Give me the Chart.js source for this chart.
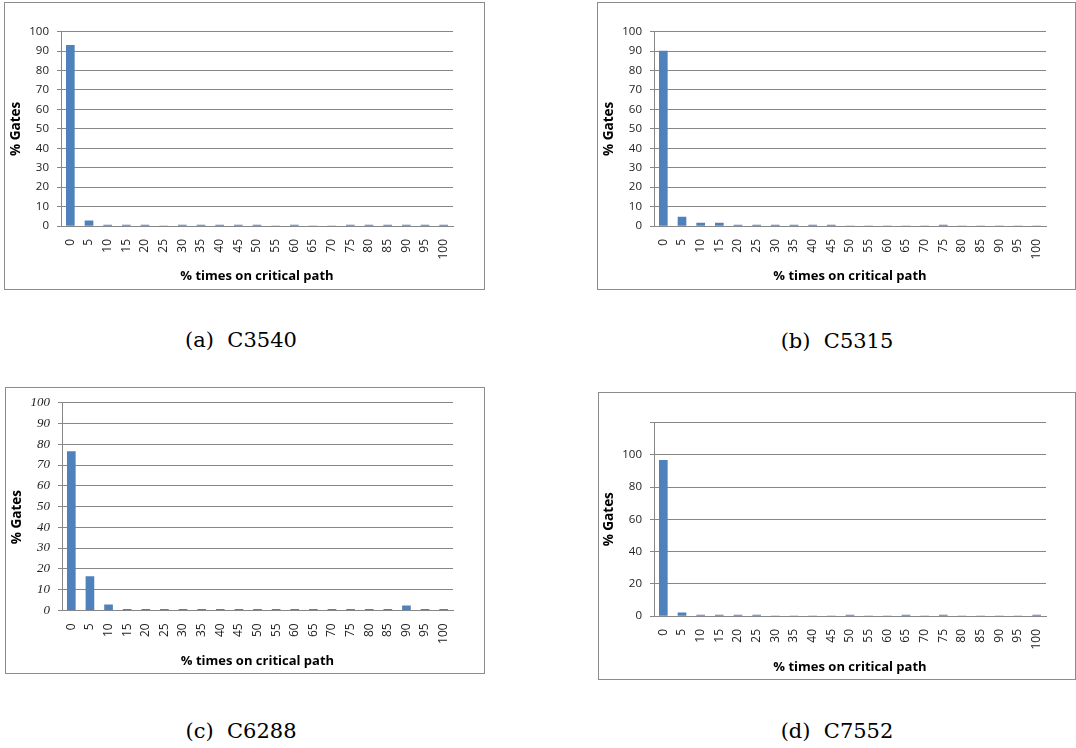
<!DOCTYPE html>
<html>
<head>
<meta charset="utf-8">
<script src="https://cdn.jsdelivr.net/npm/chart.js@4/dist/chart.umd.min.js"></script>
<style>
  html, body { margin: 0; padding: 0; background: #ffffff; }
  body { width: 1076px; height: 748px; position: relative; overflow: hidden; }
  .box { position: absolute; }
  .box canvas { position: absolute; left: 0; top: 0; }
  .cap { position: absolute; font-family: "DejaVu Serif", serif; font-size: 21px; color: #000;
         transform: translate(-50%, -50%); white-space: pre; }
</style>
</head>
<body>
<div class="box" id="boxA" style="left:4px;top:2px;width:481px;height:288px;"><canvas id="cA"></canvas></div>
<div class="box" id="boxB" style="left:597px;top:2px;width:479px;height:288px;"><canvas id="cB"></canvas></div>
<div class="box" id="boxC" style="left:5px;top:387px;width:480px;height:287px;"><canvas id="cC"></canvas></div>
<div class="box" id="boxD" style="left:598px;top:392px;width:478px;height:288px;"><canvas id="cD"></canvas></div>
<div class="cap" style="left:241px;top:340px;">(a)  C3540</div>
<div class="cap" style="left:837px;top:341px;">(b)  C5315</div>
<div class="cap" style="left:241px;top:731px;">(c)  C6288</div>
<div class="cap" style="left:837px;top:731px;">(d)  C7552</div>
<script>
// ---- data ----
const categories = ['0','5','10','15','20','25','30','35','40','45','50','55','60','65','70','75','80','85','90','95','100'];
const valuesC3540 = [93, 2.7, 0.5, 0.5, 0.5, 0, 0.5, 0.5, 0.5, 0.5, 0.5, 0, 0.5, 0, 0, 0.5, 0.5, 0.5, 0.5, 0.5, 0.5];
const valuesC5315 = [90, 4.6, 1.5, 1.5, 0.5, 0.5, 0.5, 0.5, 0.5, 0.5, 0, 0, 0, 0, 0, 0.5, 0, 0, 0, 0, 0];
const valuesC6288 = [76.5, 16.3, 2.6, 0.5, 0.5, 0.5, 0.5, 0.5, 0.5, 0.5, 0.5, 0.5, 0.5, 0.5, 0.5, 0.5, 0.5, 0.5, 2.1, 0.5, 0.5];
const valuesC7552 = [96.5, 1.9, 0.6, 0.6, 0.6, 0.6, 0, 0, 0, 0, 0.6, 0, 0, 0.6, 0, 0.6, 0, 0, 0, 0, 0.6];
const yTicks100 = [0, 10, 20, 30, 40, 50, 60, 70, 80, 90, 100];
const yTicks120 = [0, 20, 40, 60, 80, 100, 120];
const yHiddenLabelsD = [120];
const xTitle = '% times on critical path';
const yTitle = '% Gates';

const GRID = '#878787';
const BAR = '#4F81BD';

const borderPlugin = {
  id: 'boxBorder',
  afterDraw(chart) {
    const {ctx, width, height} = chart;
    ctx.save();
    ctx.strokeStyle = '#8c8c8c';
    ctx.lineWidth = 1;
    ctx.strokeRect(0.5, 0.5, width - 1, height - 1);
    ctx.restore();
  }
};

function makeChart(id, values, geo) {
  const tickValues = geo.ticks;
  return new Chart(document.getElementById(id), {
    type: 'bar',
    data: {
      labels: categories,
      datasets: [{ data: values, backgroundColor: BAR, borderWidth: 0, barThickness: 8 }]
    },
    options: {
      responsive: true,
      maintainAspectRatio: false,
      animation: false,
      events: [],
      layout: { padding: { left: 0, right: geo.padRight, top: geo.padTop, bottom: 0 } },
      plugins: { legend: { display: false }, tooltip: { enabled: false } },
      scales: {
        x: {
          type: 'category',
          offset: true,
          grid: { display: false, drawTicks: false },
          border: { display: true, color: GRID, width: 1 },
          ticks: {
            minRotation: 90, maxRotation: 90, autoSkip: false, padding: 13,
            color: '#222', font: { family: 'Open Sans', size: 12 }
          },
          title: {
            display: true, text: xTitle, color: '#000',
            font: { family: 'Open Sans', size: 13, weight: 'bold', lineHeight: 1.2 },
            padding: { top: 0, bottom: geo.xTitlePad }
          },
          afterFit(scale) { scale.height = geo.xHeight; }
        },
        y: {
          min: 0, max: tickValues[tickValues.length - 1],
          afterBuildTicks(scale) { scale.ticks = tickValues.map(v => ({ value: v })); },
          grid: { display: true, color: GRID, lineWidth: 1, drawTicks: true, tickLength: 4 },
          border: { display: true, color: GRID, width: 1 },
          ticks: {
            padding: 8, color: '#222',
            font: geo.tickFont,
            callback(v) { return (geo.hidden || []).includes(v) ? '' : String(v); }
          },
          title: {
            display: true, text: geo.yTitleText || yTitle, color: '#000',
            font: { family: 'Open Sans', size: 13.5, weight: 'bold', lineHeight: 1.2 },
            padding: { top: geo.yTitlePad, bottom: 0 }
          },
          afterFit(scale) { scale.width = geo.yWidth; }
        }
      }
    },
    plugins: [borderPlugin]
  });
}

const sansTick = { family: 'Open Sans', size: 11.5 };
const italicTick = { family: 'Liberation Serif', size: 13, style: 'italic' };

// box A: left 4, top 2, 481x288 ; plot 61..453, 31.7..226
makeChart('cA', valuesC3540, { ticks: yTicks100, yWidth: 57, padRight: 481 - 449, padTop: 29.7, xHeight: 288 - 224, xTitlePad: 6, yTitlePad: 4, tickFont: sansTick });
// box B: left 597, top 2, 479x288 ; plot 654..1046, 31.7..226
makeChart('cB', valuesC5315, { ticks: yTicks100, yWidth: 57, padRight: 479 - 449, padTop: 29.7, xHeight: 288 - 224, xTitlePad: 5.5, yTitlePad: 4.5, tickFont: sansTick });
// box C: left 5, top 387, 480x287 ; plot 62..453, 396.7..610.3
makeChart('cC', valuesC6288, { ticks: yTicks100, yWidth: 57, padRight: 480 - 448, padTop: 9.7, xHeight: 287 - 223.3, xTitlePad: 4.5, yTitlePad: 4.5, tickFont: italicTick, yTitleText: yTitle + '\u00a0\u00a0\u00a0\u00a0\u00a0\u00a0' });
// box D: left 598, top 392, 478x288 ; plot 654..1046, 422.5..616
makeChart('cD', valuesC7552, { ticks: yTicks120, hidden: yHiddenLabelsD, yWidth: 56, padRight: 478 - 448, padTop: 30.5, xHeight: 288 - 224, xTitlePad: 5, yTitlePad: 3.5, tickFont: sansTick });
</script>
</body>
</html>
